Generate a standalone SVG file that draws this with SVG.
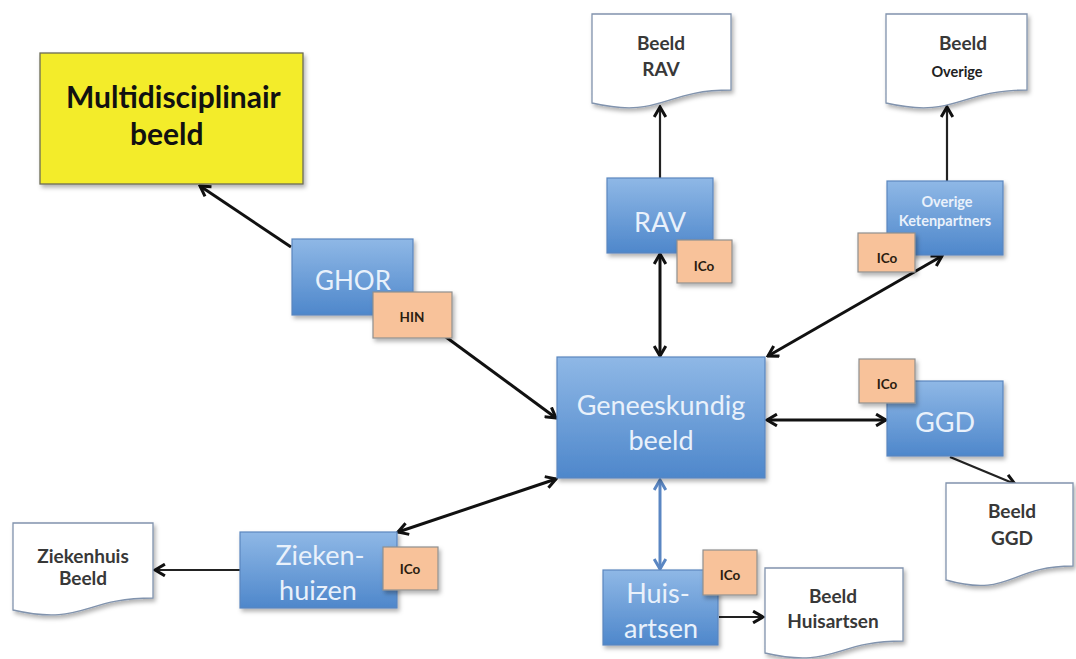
<svg xmlns="http://www.w3.org/2000/svg" width="1076" height="659" viewBox="0 0 1076 659">
<style>
.blue{fill:url(#bg);stroke:#5a86bf;stroke-width:1.2;filter:url(#sh)}
.ico{fill:#f8c29a;stroke:#8f8f8f;stroke-width:1.2;filter:url(#sh)}
.doc{fill:#fff;stroke:#8193ad;stroke-width:1.3;filter:url(#sh)}
.bt{font-family:Lato,"Open Sans",sans-serif;fill:#e9f1fb;text-anchor:middle}
.it{font-family:Lato,"Liberation Sans",sans-serif;font-weight:bold;font-size:13.5px;fill:#2b1d10;text-anchor:middle}
.dt{font-family:Lato,"Liberation Sans",sans-serif;font-weight:bold;font-size:19px;fill:#383838;text-anchor:middle}
.c{fill:none;stroke:#111;stroke-width:3}
.c2{fill:none;stroke:#222;stroke-width:2.2}
</style>
<defs>
<linearGradient id="bg" x1="0" y1="0" x2="0" y2="1">
<stop offset="0" stop-color="#8fb8e6"/>
<stop offset="1" stop-color="#4e87cb"/>
</linearGradient>
<filter id="sh" x="-20%" y="-20%" width="140%" height="150%">
<feDropShadow dx="2" dy="3" stdDeviation="2" flood-color="#000" flood-opacity="0.3"/>
</filter>
<marker id="ah" viewBox="0 0 12 12" refX="10.5" refY="6" markerWidth="14" markerHeight="14" markerUnits="userSpaceOnUse" orient="auto-start-reverse">
<path d="M2,1 L10.5,6 L2,11" fill="none" stroke="#111" stroke-width="2.6"/>
</marker>
<marker id="ahb" viewBox="0 0 12 12" refX="10.5" refY="6" markerWidth="14" markerHeight="14" markerUnits="userSpaceOnUse" orient="auto-start-reverse">
<path d="M2,1 L10.5,6 L2,11" fill="none" stroke="#5a86c2" stroke-width="2.6"/>
</marker>
</defs>
<rect width="1076" height="659" fill="#fff"/>

<g id="connectors">
<line class="c" x1="291" y1="247" x2="200" y2="186" marker-end="url(#ah)"/>
<line class="c" x1="420" y1="318" x2="556" y2="418" marker-end="url(#ah)"/>
<line class="c2" x1="660" y1="178" x2="660" y2="107" marker-end="url(#ah)"/>
<line class="c2" x1="947" y1="181" x2="947" y2="107" marker-end="url(#ah)"/>
<line class="c" x1="660" y1="254" x2="660" y2="356" marker-start="url(#ah)" marker-end="url(#ah)"/>
<line class="c" x1="768" y1="356" x2="942" y2="256" marker-start="url(#ah)" marker-end="url(#ah)"/>
<line class="c" x1="767" y1="420" x2="886" y2="420" marker-start="url(#ah)" marker-end="url(#ah)"/>
<line class="c" x1="556" y1="479" x2="398" y2="532" marker-start="url(#ah)" marker-end="url(#ah)"/>
<line x1="660" y1="480" x2="660" y2="569" stroke="#5a86c2" stroke-width="3" marker-start="url(#ahb)" marker-end="url(#ahb)"/>
<line class="c2" x1="950" y1="457" x2="1015" y2="484" marker-end="url(#ah)"/>
<line class="c2" x1="719" y1="617" x2="763" y2="617" marker-end="url(#ah)"/>
<line class="c2" x1="240" y1="570" x2="155" y2="570" marker-end="url(#ah)"/>
</g>

<g id="multidisciplinair">
<rect x="40" y="53" width="263" height="131" fill="#f3ec2c" stroke="#6b6b55" stroke-width="1.3" filter="url(#sh)"/>
<text x="66" y="108" font-family="Lato,'Liberation Sans',sans-serif" font-weight="bold" font-size="30" fill="#111">Multidisciplinair</text>
<text x="130" y="145" font-family="Lato,'Liberation Sans',sans-serif" font-weight="bold" font-size="30" fill="#111">beeld</text>
</g>

<g id="ghor">
<rect class="blue" x="292" y="239" width="121" height="76"/>
<text class="bt" x="353" y="290" font-size="26">GHOR</text>
<rect class="ico" x="373" y="292" width="79" height="46"/>
<text class="it" x="412" y="322">HIN</text>
</g>

<g id="beeld-rav">
<path class="doc" d="M592,14 H731 V90 C661.5,90 661.5,119 592,103 Z"/>
<text class="dt" x="661" y="50">Beeld</text>
<text class="dt" x="661" y="76">RAV</text>
</g>

<g id="beeld-overige">
<path class="doc" d="M886,14 H1027 V90 C956.5,90 956.5,119 886,103 Z"/>
<text class="dt" x="963" y="50">Beeld</text>
<text class="dt" x="957" y="77" style="font-size:14.5px;fill:#222">Overige</text>
</g>

<g id="rav">
<rect class="blue" x="607" y="178" width="106" height="75"/>
<text class="bt" x="660" y="232" font-size="27">RAV</text>
<rect class="ico" x="677" y="240" width="55" height="43"/>
<text class="it" x="704" y="271">ICo</text>
</g>

<g id="overige">
<rect class="blue" x="887" y="181" width="116" height="74"/>
<text class="bt" x="947" y="207" font-size="14.5" font-weight="bold">Overige</text>
<text class="bt" x="945" y="226" font-size="14.5" font-weight="bold">Ketenpartners</text>
<rect class="ico" x="858" y="233" width="57" height="39"/>
<text class="it" x="887" y="263">ICo</text>
</g>

<g id="geneeskundig">
<rect class="blue" x="557" y="357" width="208" height="121"/>
<text class="bt" x="661" y="415" font-size="27">Geneeskundig</text>
<text class="bt" x="661" y="450" font-size="27">beeld</text>
</g>

<g id="ggd">
<rect class="blue" x="887" y="381" width="116" height="75"/>
<text class="bt" x="945" y="432" font-size="27">GGD</text>
<rect class="ico" x="859" y="359" width="56" height="44"/>
<text class="it" x="887" y="389">ICo</text>
</g>

<g id="beeld-ggd">
<path class="doc" d="M946,483 H1073 V566 C1009.5,566 1009.5,598 946,580 Z"/>
<text class="dt" x="1012" y="518">Beeld</text>
<text class="dt" x="1012" y="545">GGD</text>
</g>

<g id="huisartsen">
<rect class="blue" x="603" y="570" width="115" height="75"/>
<text class="bt" x="658" y="603" font-size="27">Huis-</text>
<text class="bt" x="661" y="638" font-size="27">artsen</text>
<rect class="ico" x="703" y="550" width="54" height="45"/>
<text class="it" x="730" y="580">ICo</text>
</g>

<g id="beeld-huisartsen">
<path class="doc" d="M765,568 H903 V641 C834,641 834,669 765,653 Z"/>
<text class="dt" x="833" y="603">Beeld</text>
<text class="dt" x="833" y="628">Huisartsen</text>
</g>

<g id="ziekenhuizen">
<rect class="blue" x="240" y="532" width="157" height="76"/>
<text class="bt" x="320" y="565" font-size="27">Zieken-</text>
<text class="bt" x="318" y="600" font-size="27">huizen</text>
<rect class="ico" x="383" y="547" width="55" height="43"/>
<text class="it" x="410" y="574">ICo</text>
</g>

<g id="ziekenhuis-beeld">
<path class="doc" d="M13,523 H153 V598 C83,598 83,626 13,610 Z"/>
<text class="dt" x="83" y="563">Ziekenhuis</text>
<text class="dt" x="83" y="585">Beeld</text>
</g>
</svg>
